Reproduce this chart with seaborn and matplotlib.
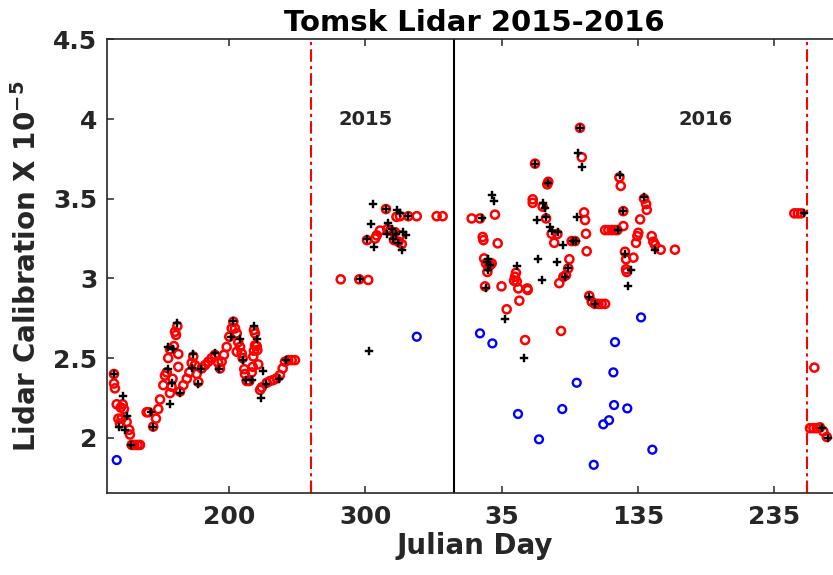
import numpy as np
import pandas as pd
import matplotlib
matplotlib.use("Agg")
import matplotlib.pyplot as plt
import seaborn as sns

# ---- data (2015 in day-of-year, 2016 in day-of-year) ----
red_day_2015 = [115.6, 115.6, 116.3, 117.6, 118.8, 120.5, 122.0, 122.9, 121.2, 120.0, 124.9, 126.8,
                127.3, 128.6, 130.5, 132.9, 134.7, 139.6, 140.8, 144.4, 146.4, 148.1, 149.4, 151.8,
                153.0, 154.3, 155.4, 156.7, 159.6, 160.4, 161.1, 162.1, 162.8, 162.8, 156.7, 157.9,
                158.6, 164.0, 166.5, 169.0, 170.9, 172.6, 173.8, 175.0, 176.3, 177.5, 180.0, 182.4,
                184.8, 187.3, 189.7, 192.1, 193.4, 194.6, 196.3, 198.3, 200.2, 202.0, 203.2, 204.4,
                205.7, 205.7, 206.8, 208.1, 209.3, 210.0, 211.2, 211.7, 213.0, 214.9, 216.7, 217.4,
                217.8, 218.3, 219.1, 219.1, 218.3, 220.3, 220.8, 221.5, 222.8, 224.0, 227.7, 230.1,
                232.5, 235.0, 237.4, 239.4, 241.1, 243.5, 246.0, 248.4,
                282.0, 295.6, 302.2, 315.2, 322.9, 325.5, 331.6, 337.8, 352.4, 356.8, 301.3, 307.2,
                308.4, 310.8, 316.2, 318.2, 321.8, 325.5, 321.1, 324.3, 326.8]
red_cal_2015 = [2.40, 2.34, 2.31, 2.21, 2.12, 2.19, 2.21, 2.18, 2.12, 2.09, 2.10, 2.05,
                2.02, 1.955, 1.955, 1.955, 1.955, 2.16, 2.16, 2.07, 2.12, 2.18, 2.24, 2.33,
                2.39, 2.41, 2.50, 2.555, 2.575, 2.665, 2.645, 2.70, 2.525, 2.445, 2.28, 2.32,
                2.37, 2.29, 2.33, 2.37, 2.41, 2.47, 2.51, 2.456, 2.40, 2.35, 2.435, 2.456,
                2.477, 2.50, 2.52, 2.47, 2.435, 2.477, 2.52, 2.57, 2.634, 2.686, 2.728, 2.686,
                2.655, 2.54, 2.60, 2.57, 2.53, 2.50, 2.43, 2.40, 2.356, 2.356, 2.41, 2.445,
                2.51, 2.546, 2.58, 2.655, 2.676, 2.575, 2.55, 2.46, 2.30, 2.316, 2.345, 2.356,
                2.362, 2.373, 2.393, 2.435, 2.477, 2.487, 2.487, 2.487,
                2.994, 2.994, 2.99, 3.435, 3.386, 3.39, 3.39, 3.39, 3.39, 3.39, 3.24, 3.25,
                3.27, 3.30, 3.31, 3.30, 3.29, 3.27, 3.24, 3.23, 3.215]

red_doy_2016 = [13.1, 19.2, 30.2, 21.2, 21.7, 32.2, 22.2, 23.6, 24.6, 25.3, 26.6, 27.8, 22.9, 35.0,
                45.6, 44.9, 44.2, 46.2, 47.3, 53.9, 54.2, 48.1, 38.8, 59.6, 57.9, 57.9, 65.2, 67.7,
                68.6, 69.3, 71.8, 76.0, 73.7, 86.5, 88.9, 84.8, 84.0, 82.3, 80.4, 77.4, 92.6, 93.9,
                95.6, 96.3, 97.0, 97.5, 99.4, 101.2, 103.6, 106.1, 108.5, 111.0, 111.0, 113.4,
                115.9, 118.3, 120.0, 124.4, 124.4, 121.5, 122.5, 125.6, 126.4, 126.4, 126.9, 131.8,
                133.7, 134.7, 135.4, 136.7, 139.6, 141.1, 141.6, 145.2, 146.4, 147.7, 151.8, 162.3,
                52.3, 78.7, 249.9, 252.4, 254.8, 264.6, 261.4, 263.9, 266.3, 268.7, 271.2, 273.7]
red_cal_2016 = [3.376, 3.376, 3.40, 3.26, 3.24, 3.22, 3.125, 3.094, 3.04, 3.073, 3.083, 3.094, 2.95, 2.95,
                3.035, 3.01, 2.985, 2.98, 2.937, 2.937, 2.927, 2.86, 2.806, 3.72, 3.496, 3.474, 3.45, 3.376,
                3.59, 3.606, 3.28, 3.278, 3.223, 3.234, 3.234, 3.12, 3.063, 3.02, 3.01, 2.97, 3.945, 3.76,
                3.414, 3.366, 3.28, 3.17, 2.89, 2.853, 2.84, 2.84, 2.84, 2.84, 3.303, 3.303,
                3.303, 3.303, 3.303, 3.328, 3.422, 3.634, 3.58, 3.167, 3.12, 3.057, 3.04, 3.13,
                3.223, 3.265, 3.286, 3.37, 3.50, 3.466, 3.43, 3.265, 3.23, 3.21, 3.18, 3.18,
                2.613, 2.67, 3.408, 3.408, 3.408, 2.44, 2.06, 2.06, 2.06, 2.065, 2.04, 2.005]

black_day_2015 = [115.6, 122.4, 125.4, 119.5, 123.7, 127.9, 142.5, 144.4, 155.0, 155.4, 159.1, 158.4,
                  156.7, 162.1, 164.0, 173.1, 173.8, 177.5, 179.4, 189.7, 192.9, 201.2, 202.7, 208.1,
                  210.5, 212.5, 216.7, 218.3, 220.3, 225.2, 223.3, 227.0, 236.7, 241.8,
                  305.4, 304.0, 306.5, 296.1, 301.5, 315.2, 323.1, 325.5, 331.6, 316.9, 319.4, 316.2,
                  322.9, 327.8, 329.8, 320.6, 324.3, 326.8, 303.0]
black_cal_2015 = [2.40, 2.26, 2.136, 2.07, 2.05, 1.955, 2.16, 2.07, 2.43, 2.57, 2.555, 2.345,
                  2.21, 2.72, 2.28, 2.435, 2.525, 2.34, 2.43, 2.53, 2.43, 2.63, 2.73, 2.62,
                  2.49, 2.36, 2.36, 2.70, 2.62, 2.42, 2.25, 2.34, 2.37, 2.49,
                  3.466, 3.34, 3.195, 2.994, 3.245, 3.435, 3.43, 3.41, 3.39, 3.345, 3.31, 3.278,
                  3.28, 3.29, 3.27, 3.245, 3.22, 3.18, 2.546]

black_doy_2016 = [20.5, 27.8, 29.5, 25.3, 24.1, 26.6, 25.3, 23.6, 46.6, 59.6, 65.2, 66.9, 67.7, 60.8,
                  69.3, 70.6, 71.8, 76.7, 79.9, 61.6, 75.5, 64.5, 87.5, 89.5, 83.6, 81.6, 92.6, 91.4,
                  93.9, 90.2, 99.4, 103.6, 120.7, 124.4, 122.0, 125.6, 129.8, 128.1, 139.6, 147.7,
                  37.6, 51.5, 257.2, 270.0, 274.8]
black_cal_2016 = [3.376, 3.523, 3.487, 3.12, 3.10, 3.083, 3.05, 2.937, 3.077, 3.72, 3.474, 3.44, 3.383, 3.366,
                  3.60, 3.32, 3.30, 3.29, 3.21, 3.12, 3.10, 2.99, 3.234, 3.234, 3.063, 3.01, 3.945, 3.784,
                  3.70, 3.383, 2.885, 2.84, 3.303, 3.422, 3.65, 3.15, 3.05, 2.954, 3.51, 3.18,
                  2.745, 2.498, 3.408, 2.06, 2.0]

blue_day_2015 = [117.6, 337.8]
blue_cal_2015 = [1.86, 2.634]
blue_doy_2016 = [19.2, 28.3, 137.4, 118.3, 117.1, 90.2, 117.6, 127.3, 79.6, 47.1, 113.9, 109.7,
                 62.5, 145.7, 102.7]
blue_cal_2016 = [2.655, 2.592, 2.755, 2.60, 2.41, 2.345, 2.205, 2.184, 2.18, 2.149, 2.11, 2.084,
                 1.99, 1.925, 1.83]

tick_pos = [200, 300, 400, 500, 600]
tick_lab = ['200', '300', '35', '135', '235']
year_end = 365
cutoffs = [260, 624]


def series(days15, cal15, doy16, cal16):
    x = list(days15) + [year_end + d for d in doy16]
    return pd.DataFrame({'day': x, 'cal': list(cal15) + list(cal16)})


red = series(red_day_2015, red_cal_2015, red_doy_2016, red_cal_2016)
black = series(black_day_2015, black_cal_2015, black_doy_2016, black_cal_2016)
blue = series(blue_day_2015, blue_cal_2015, blue_doy_2016, blue_cal_2016)

sns.set_style("ticks")
plt.rcParams['font.family'] = ['DejaVu Sans']
plt.rcParams['font.weight'] = 'bold'

fig = plt.figure(figsize=(8.33, 5.75), dpi=100)
ax = fig.add_axes([0.1285, 0.1431, 0.8825, 0.7885])

sns.scatterplot(data=red, x='day', y='cal', ax=ax, marker='o', s=34,
                facecolors='none', edgecolor='#ff0000', linewidth=1.8, zorder=3)
sns.scatterplot(data=black, x='day', y='cal', ax=ax, marker='P', s=30,
                color='black', edgecolor='black', linewidth=0.3, zorder=4)
sns.scatterplot(data=blue, x='day', y='cal', ax=ax, marker='o', s=32,
                facecolors='none', edgecolor='#0000ff', linewidth=1.7, zorder=3)

for c in cutoffs:
    ax.axvline(c, color='#ff0000', linestyle=(0, (6, 2, 1.5, 2)), linewidth=1.5, zorder=2)
ax.axvline(year_end, color='black', linewidth=1.5, zorder=2)

ax.text(300, 4.0, '2015', ha='center', va='center', fontsize=14, fontweight='bold')
ax.text(550, 4.0, '2016', ha='center', va='center', fontsize=14, fontweight='bold')

ax.set_xlim(110.5, 650)
ax.set_ylim(1.655, 4.5)
ax.set_xticks(tick_pos)
ax.set_xticklabels(tick_lab)
ax.set_yticks([2, 2.5, 3, 3.5, 4, 4.5])
ax.set_yticklabels(['2', '2.5', '3', '3.5', '4', '4.5'])

for s in ['left', 'bottom', 'top', 'right']:
    ax.spines[s].set_visible(True)
    ax.spines[s].set_linewidth(1.2)
    ax.spines[s].set_color('#262626')
ax.tick_params(axis='both', direction='in', length=5, width=1.1, color='#262626',
               labelsize=18, labelcolor='#262626', top=True, right=True)
ax.tick_params(axis='x', pad=9)
ax.tick_params(axis='y', pad=7)
for lab in ax.get_xticklabels() + ax.get_yticklabels():
    lab.set_fontweight('bold')

ax.set_xlabel('Julian Day', fontsize=20, fontweight='bold', color='#262626', labelpad=2)
ax.set_ylabel(r'Lidar Calibration X 10$^{\mathregular{-5}}$', fontsize=20, fontweight='bold',
              color='#262626', labelpad=8)
ax.set_title('Tomsk Lidar 2015-2016', fontsize=21, fontweight='bold', pad=6, color='black')

fig.savefig('out.png', dpi=100)
